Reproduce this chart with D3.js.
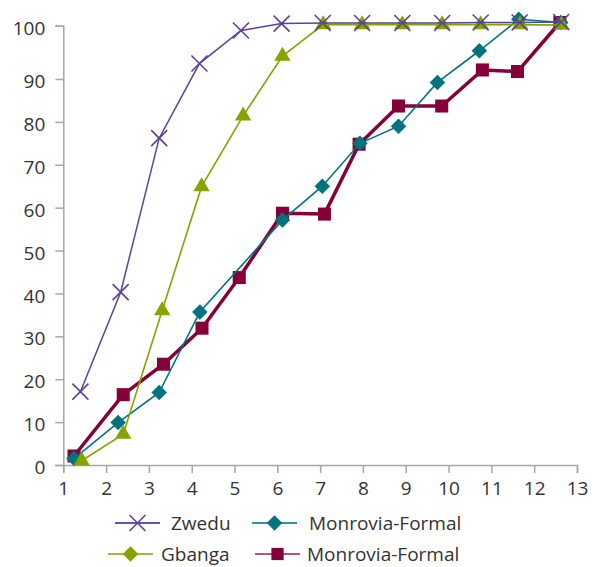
<!DOCTYPE html>
<html>
<head>
<meta charset="utf-8">
<script src="https://cdn.jsdelivr.net/npm/d3@7/dist/d3.min.js"></script>
<style>
  html, body { margin: 0; padding: 0; background: #fff; }
  svg { display: block; }
  text { font-family: "Open Sans", "Noto Sans", sans-serif; fill: #333; }
</style>
</head>
<body>
<svg id="chart" width="596" height="567"></svg>
<script>
// ---- data ----
const xTicks = [1, 2, 3, 4, 5, 6, 7, 8, 9, 10, 11, 12, 13];
const yTicks = [0, 10, 20, 30, 40, 50, 60, 70, 80, 90, 100];

const zweduX = [1.40, 2.34, 3.24, 4.18, 5.15, 6.10, 7.06, 7.98, 8.92, 9.85, 10.75, 11.66, 12.63];
const zweduY = [17.1, 40.3, 76.2, 92.9, 99.1, 100.4, 100.5, 100.5, 100.5, 100.5, 100.6, 100.6, 100.7];

const gbangaX = [1.43, 2.40, 3.31, 4.23, 5.20, 6.12, 7.07, 7.98, 8.92, 9.85, 10.75, 11.67, 12.64];
const gbangaY = [1.0, 7.2, 36.0, 64.9, 81.4, 94.3, 100.2, 100.2, 100.2, 100.2, 100.2, 100.2, 100.1];

const monroviaAX = [1.25, 2.28, 3.24, 4.19, 5.15, 6.12, 7.05, 7.93, 8.83, 9.74, 10.72, 11.64, 12.62];
const monroviaAY = [1.5, 9.9, 16.9, 35.7, null, 57.1, 65.0, 75.0, 79.0, 89.2, 95.3, 101.2, 100.6];

const monroviaBX = [1.25, 2.40, 3.34, 4.24, 5.11, 6.12, 7.10, 7.91, 8.83, 9.84, 10.79, 11.61, 12.60];
const monroviaBY = [2.1, 16.4, 23.5, 31.9, 43.7, 58.7, 58.5, 74.8, 83.7, 83.7, 91.7, 91.4, 100.6];

const seriesNames = ["Zwedu", "Monrovia-Formal", "Gbanga", "Monrovia-Formal"];

// ---- build ----
const svg = d3.select("#chart");
const x = d3.scaleLinear().domain([1, 13]).range([63.3, 577]);
const y = d3.scaleLinear().domain([0, 90, 100]).range([465, 79, 25.7]);

const axisColor = "#a6a6a6";

// Y axis
const yAxis = svg.append("g").attr("transform", "translate(63.3,0)")
  .call(d3.axisLeft(y).tickValues(yTicks).tickSizeOuter(0).tickSize(8).tickPadding(10));
// X axis
const xAxis = svg.append("g").attr("transform", "translate(0,465)")
  .call(d3.axisBottom(x).tickValues(xTicks).tickSizeOuter(0).tickSize(8).tickPadding(6));
[yAxis, xAxis].forEach(g => {
  g.selectAll("path.domain").attr("stroke", axisColor).attr("stroke-width", 1.5);
  g.selectAll(".tick line").attr("stroke", axisColor).attr("stroke-width", 1.5);
  g.selectAll(".tick text").attr("font-size", 19).attr("fill", "#333")
    .style("font-family", '"Open Sans", sans-serif');
});
yAxis.selectAll(".tick text").attr("dy", "0.45em");
xAxis.selectAll(".tick text").attr("dy", "0.85em");

function pts(xs, ys) {
  return xs.map((v, i) => ({ x: v, y: ys[i] })).filter(d => d.y !== null);
}
const line = d3.line().x(d => x(d.x)).y(d => y(d.y));

const red = "#850038", teal = "#00737f", green = "#86a300", purple = "#5c4294";

// Draw order: red (bottom), teal, green, purple (top)
const redPts = pts(monroviaBX, monroviaBY);
svg.append("path").datum(redPts).attr("d", line)
  .attr("fill", "none").attr("stroke", red).attr("stroke-width", 3.5).attr("stroke-linejoin", "round");
svg.append("g").selectAll("path").data(redPts).join("path")
  .attr("d", d3.symbol(d3.symbolSquare, 170)())
  .attr("transform", d => `translate(${x(d.x)},${y(d.y)})`)
  .attr("fill", red);

const tealPts = pts(monroviaAX, monroviaAY);
svg.append("path").datum(tealPts).attr("d", line)
  .attr("fill", "none").attr("stroke", teal).attr("stroke-width", 1.6);
svg.append("g").selectAll("path").data(tealPts).join("path")
  .attr("d", d3.symbol(d3.symbolSquare, 120)())
  .attr("transform", d => `translate(${x(d.x)},${y(d.y)}) rotate(45)`)
  .attr("fill", teal);

const greenPts = pts(gbangaX, gbangaY);
svg.append("path").datum(greenPts).attr("d", line)
  .attr("fill", "none").attr("stroke", green).attr("stroke-width", 1.6);
svg.append("g").selectAll("path").data(greenPts).join("path")
  .attr("d", d3.symbol(d3.symbolTriangle, 115)())
  .attr("transform", d => `translate(${x(d.x)},${y(d.y)})`)
  .attr("fill", green);

const purplePts = pts(zweduX, zweduY);
svg.append("path").datum(purplePts).attr("d", line)
  .attr("fill", "none").attr("stroke", purple).attr("stroke-width", 1.5);
svg.append("g").selectAll("path").data(purplePts).join("path")
  .attr("d", "M-8,-8L8,8M-8,8L8,-8")
  .attr("transform", d => `translate(${x(d.x)},${y(d.y)})`)
  .attr("fill", "none").attr("stroke", purple).attr("stroke-width", 1.6);

// ---- legend ----
const legendItems = [
  { name: seriesNames[0], color: "#6b52a3", mark: "x",       mcolor: purple, lx: 115, tx: 171, ly: 523 },
  { name: seriesNames[1], color: "#2f94a0", mark: "diamond", mcolor: teal,   lx: 252, tx: 309, ly: 523 },
  { name: seriesNames[2], color: "#a2b840", mark: "diamond", mcolor: green,  lx: 108, tx: 161, ly: 554 },
  { name: seriesNames[3], color: "#b2557f", mark: "square",  mcolor: red,    lx: 255, tx: 307, ly: 554 }
];
const lg = svg.append("g").selectAll("g").data(legendItems).join("g")
  .attr("transform", d => `translate(${d.lx},${d.ly})`);
lg.append("line").attr("x1", 0).attr("x2", 45).attr("y1", 0).attr("y2", 0)
  .attr("stroke", d => d.color).attr("stroke-width", 2);
lg.append("path")
  .attr("d", d => d.mark === "x" ? "M-8,-8L8,8M-8,8L8,-8"
    : d.mark === "square" ? d3.symbol(d3.symbolSquare, 150)()
    : d3.symbol(d3.symbolSquare, 120)())
  .attr("transform", d => `translate(22.5,0)` + (d.mark === "diamond" ? " rotate(45)" : ""))
  .attr("fill", d => d.mark === "x" ? "none" : d.mcolor)
  .attr("stroke", d => d.mark === "x" ? d.mcolor : "none")
  .attr("stroke-width", 1.6);
lg.append("text")
  .attr("x", d => d.tx - d.lx).attr("y", 0).attr("dy", "0.36em")
  .attr("font-size", 19).attr("fill", "#333")
  .text(d => d.name);
</script>
</body>
</html>
